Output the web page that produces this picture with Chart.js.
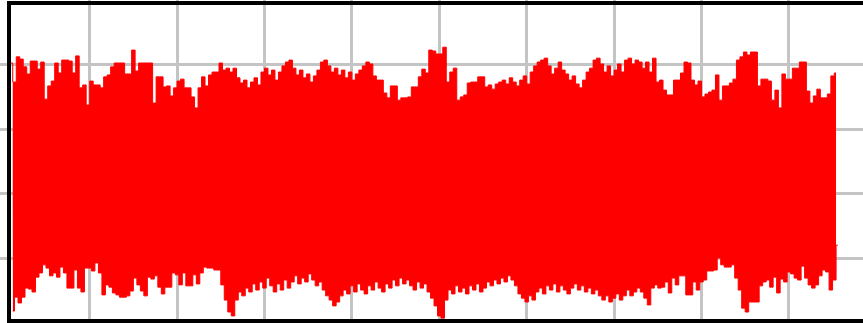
<!DOCTYPE html>
<html>
<head>
<meta charset="utf-8">
<script src="https://cdn.jsdelivr.net/npm/chart.js@4/dist/chart.umd.min.js"></script>
<style>
  html, body { margin: 0; padding: 0; background: #ffffff; }
  #wrap { position: relative; width: 863px; height: 323px; }
</style>
</head>
<body>
<div id="wrap"><canvas id="signal"></canvas></div>
<script>
// Sampled signal: for every sample window the upper and lower excursion.
const SAMPLE_START = 10;     // time of first window
const SAMPLE_STEP = 4;       // window length

const peaks = [
  80.5, 74.6, 82.4, 81.7, 79.3, 77.1, 81.1, 81.1, 78.6, 80.8,
  69.3, 73.4, 74.9, 80.5, 77.4, 81.4, 81.4, 81.1, 77.4, 82.7,
  72.8, 73.7, 67.5, 74.9, 73.7, 73.7, 72.8, 76.2, 76.8, 79.3,
  80.5, 80.5, 80.5, 77.1, 77.1, 84.5, 78.0, 80.5, 80.5, 80.5,
  80.5, 68.1, 76.2, 76.2, 73.1, 73.4, 70.3, 72.8, 74.9, 75.5,
  72.8, 72.8, 70.0, 66.6, 72.8, 76.2, 73.4, 76.8, 77.7, 77.7,
  80.5, 78.3, 78.9, 77.7, 78.9, 75.9, 74.3, 75.2, 72.8, 74.6,
  75.9, 73.7, 77.7, 78.9, 76.8, 78.3, 75.2, 77.7, 79.6, 80.8,
  81.4, 78.9, 76.8, 78.3, 75.9, 77.1, 74.6, 76.5, 78.3, 80.8,
  81.4, 79.6, 77.7, 78.9, 76.8, 78.3, 75.9, 77.7, 75.2, 77.1,
  78.3, 79.6, 80.8, 80.2, 76.5, 75.2, 75.2, 71.2, 69.7, 73.4,
  73.4, 69.0, 69.7, 69.7, 70.0, 73.1, 73.1, 76.2, 78.6, 77.4,
  84.5, 84.2, 83.3, 83.3, 85.4, 74.6, 77.7, 78.9, 69.0, 70.0,
  70.6, 74.3, 74.6, 74.6, 76.2, 76.2, 73.1, 73.7, 72.4, 74.0,
  74.6, 75.2, 74.0, 75.9, 74.6, 73.4, 75.2, 76.5, 74.0, 77.7,
  79.6, 80.8, 81.4, 82.0, 79.6, 77.1, 78.9, 80.8, 78.3, 77.1,
  75.2, 76.5, 74.0, 72.8, 75.2, 77.7, 78.9, 81.4, 82.0, 80.2,
  77.7, 79.6, 76.5, 78.3, 80.2, 77.7, 81.4, 82.0, 80.2, 81.4,
  80.8, 78.9, 80.8, 77.7, 82.0, 74.6, 75.2, 72.1, 70.6, 70.6,
  75.2, 75.2, 77.4, 80.8, 80.5, 75.2, 73.7, 74.9, 70.0, 70.9,
  71.5, 72.1, 76.8, 69.0, 73.4, 73.4, 74.3, 75.5, 81.4, 82.4,
  83.9, 83.0, 83.9, 83.9, 73.4, 75.5, 75.5, 74.9, 69.0, 72.1,
  66.6, 77.1, 75.5, 75.5, 78.9, 78.9, 80.8, 80.8, 71.8, 68.1,
  70.3, 72.4, 69.7, 69.7, 70.9, 76.5, 77.4
];

const troughs = [
   3.7,  8.0,  6.2,  8.0, 10.8, 10.5,  9.6, 14.2, 15.5, 18.0,
  17.0, 14.6, 15.5, 14.2, 17.3, 15.5, 10.8, 10.8, 16.4, 10.8,
   9.6, 17.0, 17.0, 16.1, 18.6, 15.5,  8.7, 11.8, 11.1,  9.3,
   8.7,  8.0,  8.0,  8.4,  9.9, 13.9, 11.8,  9.9,  8.4, 14.2,
  13.6, 14.6, 11.1,  9.0, 11.1, 11.1, 15.5, 14.9, 11.8, 15.5,
  11.5, 11.5, 14.9, 12.1, 15.5, 17.3, 17.0, 17.0, 16.4, 16.4,
  11.8,  7.1,  3.4,  2.2,  7.1,  9.6,  8.4, 10.8,  9.6, 12.1,
  10.2, 12.7, 10.8, 13.9, 11.5,  9.6, 12.1, 10.2, 13.3, 10.8,
  12.7, 14.6, 12.1, 13.9, 12.7, 15.2, 13.3, 11.5, 12.7, 10.2,
   8.4,  7.1,  5.3,  6.5,  8.4, 10.2,  9.0, 11.5,  9.6, 12.1,
  10.2,  9.0, 11.5, 10.2, 12.7, 10.8,  9.6, 12.1, 10.8, 13.3,
  11.5, 13.9, 12.1, 13.3, 11.5, 10.2, 12.7, 10.8, 12.1,  9.6,
   7.7,  5.3,  2.2,  1.5,  7.1, 10.2,  9.0, 11.5,  9.6, 10.8,
   9.0, 11.5, 10.2, 12.1,  9.6, 10.8, 12.7, 11.5, 13.3, 12.1,
  13.9, 12.7, 14.6, 13.3, 11.5,  9.0,  7.7,  6.5,  8.4,  7.1,
   9.6, 10.8,  9.0, 11.5, 10.2, 12.1,  9.6, 11.5, 10.2,  9.0,
  10.8, 12.1, 10.2, 11.5,  9.6, 10.8,  9.0, 10.2,  8.4,  7.1,
   8.4,  6.5,  7.7,  9.0,  7.1,  8.4, 10.2,  8.4,  9.6, 10.8,
   9.6,  7.7,  5.6, 10.8, 11.8, 10.8, 11.1, 12.7,  9.3, 13.9,
  11.8, 14.6, 14.6,  8.7,  8.7, 12.7, 10.2, 12.7, 13.3, 16.1,
  16.1, 16.4, 20.1, 18.0, 17.3, 17.3, 18.0, 13.9, 10.2,  4.6,
   3.4,  6.5,  6.5,  6.5, 11.5, 12.7, 13.3, 11.1, 14.2,  9.3,
  13.6, 12.7, 15.8, 15.2, 13.9, 13.3, 17.6, 13.9, 11.8, 10.8,
  11.8, 14.6, 16.4, 15.8, 10.2, 13.3, 24.1
];

// Grid positions
const timeTicks = [100, 200, 300, 400, 500, 600, 700, 800, 900];
const levelTicks = [20, 40, 60, 80];

// Upper and lower excursion traces (lower one offset by half a window)
const upper = peaks.map((v, i) => ({ x: SAMPLE_START + SAMPLE_STEP * i, y: v }));
const lower = troughs.map((v, i) => ({ x: SAMPLE_START + SAMPLE_STEP * i + SAMPLE_STEP / 2, y: v }));

// Heavy black frame on the left, top and bottom edges
const framePlugin = {
  id: 'frame',
  afterDraw(chart) {
    const ctx = chart.ctx;
    const w = chart.width, h = chart.height;
    ctx.save();
    ctx.fillStyle = '#000000';
    ctx.fillRect(7, 1, w - 7, 4);
    ctx.fillRect(7, 1, 4, h - 1);
    ctx.fillRect(7, h - 4, w - 7, 4);
    ctx.restore();
  }
};

const gridStyle = {
  color: '#c4c4c4',
  lineWidth: 3,
  drawTicks: false
};

const RED = '#ff0000';

new Chart(document.getElementById('signal'), {
  type: 'line',
  data: {
    datasets: [
      {
        data: upper,
        borderColor: RED,
        backgroundColor: RED,
        borderWidth: 1,
        pointRadius: 0,
        stepped: 'middle',
        fill: '+1'
      },
      {
        data: lower,
        borderColor: RED,
        backgroundColor: RED,
        borderWidth: 1,
        pointRadius: 0,
        stepped: 'middle',
        fill: false
      }
    ]
  },
  options: {
    responsive: true,
    maintainAspectRatio: false,
    animation: false,
    events: [],
    layout: { padding: 0, autoPadding: false },
    plugins: { legend: { display: false }, tooltip: { enabled: false } },
    scales: {
      x: {
        type: 'linear',
        min: -2.6,
        max: 984.8,
        afterBuildTicks: (s) => { s.ticks = timeTicks.map(v => ({ value: v })); },
        ticks: { display: false },
        grid: gridStyle,
        border: { display: false }
      },
      y: {
        type: 'linear',
        min: 0,
        max: 100,
        afterBuildTicks: (s) => { s.ticks = levelTicks.map(v => ({ value: v })); },
        ticks: { display: false },
        grid: gridStyle,
        border: { display: false }
      }
    }
  },
  plugins: [framePlugin]
});
</script>
</body>
</html>
